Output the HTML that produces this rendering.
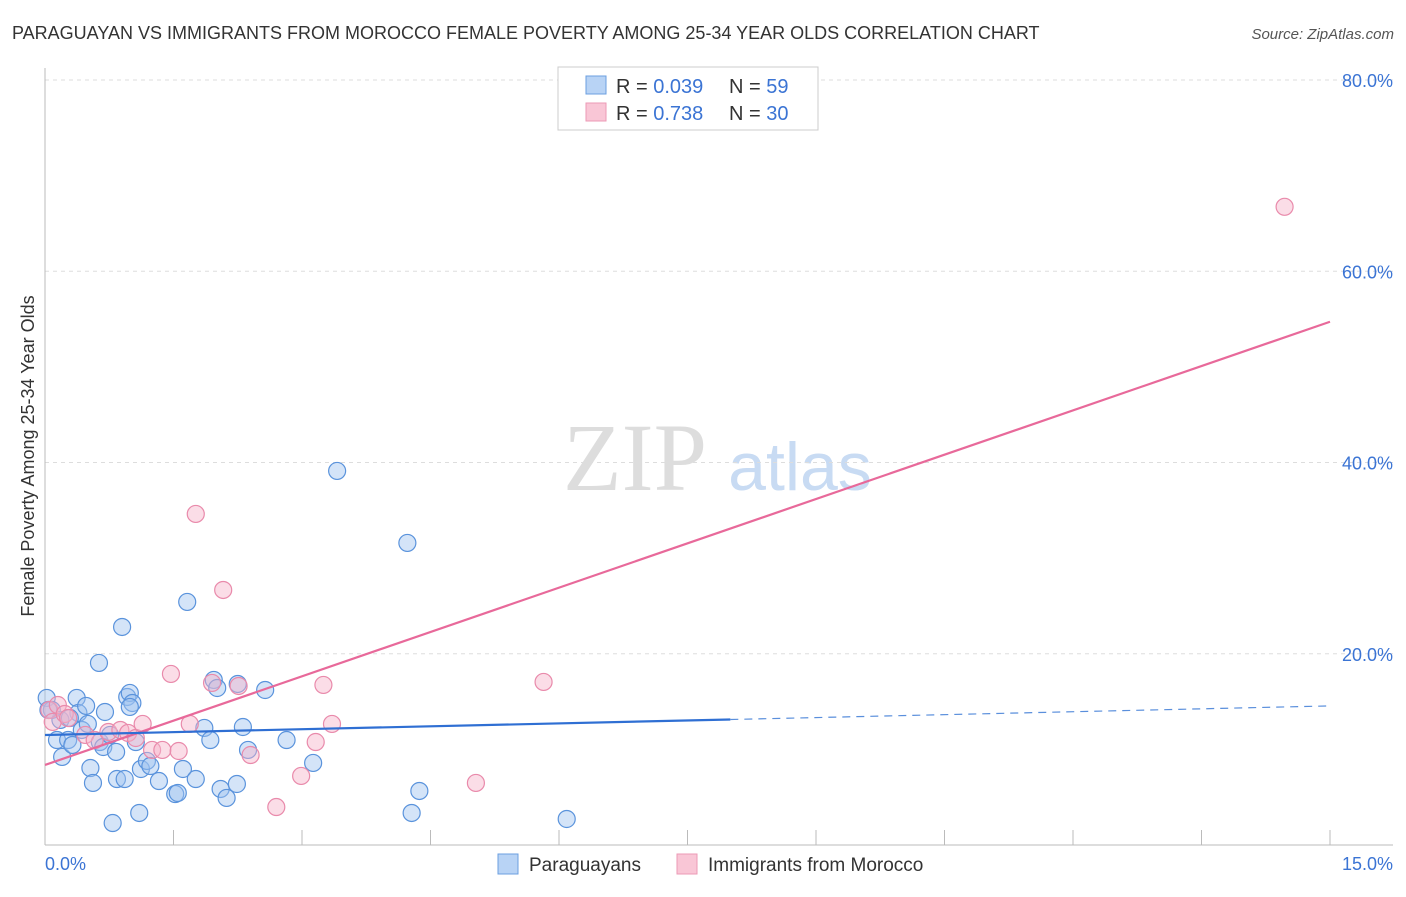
<!DOCTYPE html>
<html><head><meta charset="utf-8"><style>
body{margin:0;background:#fff;font-family:"Liberation Sans",sans-serif}
</style></head><body>
<svg id="chart" width="1406" height="892" xmlns="http://www.w3.org/2000/svg" font-family="Liberation Sans, sans-serif">
<text x="12" y="39" font-size="18" fill="#333">PARAGUAYAN VS IMMIGRANTS FROM MOROCCO FEMALE POVERTY AMONG 25-34 YEAR OLDS CORRELATION CHART</text>
<text x="1394" y="39" font-size="15" fill="#555" text-anchor="end" font-style="italic">Source: ZipAtlas.com</text>
<g>
<text x="635" y="490" font-size="96" fill="#ddd" font-family="Liberation Serif, serif" text-anchor="middle">ZIP</text>
<text x="800" y="490" font-size="68" fill="#c8dbf3" text-anchor="middle">atlas</text>
</g>
<g id="grid"></g>
<g id="axes"></g>
<g id="marks"></g>
<text transform="translate(34,456) rotate(-90)" font-size="18" fill="#333" text-anchor="middle">Female Poverty Among 25-34 Year Olds</text>
<g>
<rect x="558" y="67" width="260" height="63" fill="#fff" stroke="#ccc"/>
<rect x="586" y="76" width="20" height="18" fill="#b8d3f5" stroke="#6b9fe0"/>
<rect x="586" y="103" width="20" height="18" fill="#f9c6d6" stroke="#ec9ab6"/>
<text x="616" y="93" font-size="20" fill="#333">R = <tspan fill="#3b74d4">0.039</tspan></text>
<text x="729" y="93" font-size="20" fill="#333">N = <tspan fill="#3b74d4">59</tspan></text>
<text x="616" y="120" font-size="20" fill="#333">R = <tspan fill="#3b74d4">0.738</tspan></text>
<text x="729" y="120" font-size="20" fill="#333">N = <tspan fill="#3b74d4">30</tspan></text>
</g>
<g>
<rect x="498" y="854" width="20" height="20" fill="#b8d3f5" stroke="#6b9fe0"/>
<text x="529" y="871" font-size="19" fill="#333">Paraguayans</text>
<rect x="677" y="854" width="20" height="20" fill="#f9c6d6" stroke="#ec9ab6"/>
<text x="708" y="871" font-size="19" fill="#333">Immigrants from Morocco</text>
</g>
</svg>
<script>
const blueX=[0.02,0.08,0.14,0.18,0.20,0.27,0.32,0.37,0.39,0.43,0.48,0.50,0.53,0.56,0.63,0.64,0.68,0.70,0.76,0.79,0.83,0.84,0.90,0.93,0.96,0.99,1.02,1.06,1.10,1.12,1.19,1.23,1.33,1.52,1.55,1.61,1.66,1.76,1.86,1.93,1.97,2.01,2.05,2.12,2.24,2.25,2.31,2.37,2.57,2.82,3.13,3.41,4.23,4.28,4.37,6.09,0.04,0.29,0.99];
const blueY=[15.38,14.12,10.98,13.08,9.21,10.98,10.46,15.38,13.81,12.03,14.54,12.66,8.05,6.49,19.04,10.77,10.25,13.91,11.51,2.30,9.73,6.90,22.80,6.90,15.48,15.90,14.85,10.77,3.35,7.95,8.79,8.26,6.69,5.33,5.44,7.95,25.42,6.90,12.24,10.98,17.26,16.42,5.86,4.92,6.38,16.84,12.34,9.94,16.21,10.98,8.58,39.12,31.59,3.35,5.65,2.72,14.12,13.28,14.44];
const pinkX=[0.05,0.09,0.15,0.23,0.27,0.47,0.58,0.74,0.88,0.97,1.06,1.14,1.25,1.37,1.47,1.56,1.69,1.76,1.95,2.08,2.26,2.40,2.70,2.99,3.16,3.25,3.35,5.03,5.82,14.47];
const pinkY=[14.12,12.87,14.64,13.70,13.28,11.51,10.98,11.82,12.03,11.72,11.19,12.66,9.94,9.94,17.89,9.83,12.66,34.62,16.95,26.67,16.63,9.41,3.97,7.22,10.77,16.74,12.66,6.49,17.05,66.74];
const blueTrend=[11.5,0.203];   // intercept, slope
const pinkTrend=[8.37,3.09];
const yTicks=[20,40,60,80];
const yTickLabels=["20.0%","40.0%","60.0%","80.0%"];
const xTicks=[0,1.5,3,4.5,6,7.5,9,10.5,12,13.5,15];
const NS="http://www.w3.org/2000/svg";
const X0=45,X1=1330,Y0=845,Y80=80;
const sx=v=>X0+(X1-X0)*v/15;
const sy=v=>Y0-(Y0-Y80)*v/80;
function mk(tag,attrs,parent){const e=document.createElementNS(NS,tag);for(const k in attrs)e.setAttribute(k,attrs[k]);document.getElementById(parent).appendChild(e);return e;}
yTicks.forEach((t,i)=>{
 const l=mk('line',{x1:X0,x2:1393,y1:sy(t),y2:sy(t),stroke:'#ddd','stroke-dasharray':'4,4'},'grid');
 
 
 const tx=mk('text',{x:1393,y:sy(t)+7,'font-size':18,fill:'#3b74d4','text-anchor':'end'},'grid');
 tx.textContent=yTickLabels[i];
 
 
});
let a=mk('line',{x1:X0,x2:X0,y1:68,y2:Y0,stroke:'#bbb'},'axes');


a=mk('line',{x1:X0,x2:1393,y1:Y0,y2:Y0,stroke:'#bbb'},'axes');


xTicks.forEach(t=>{const l=mk('line',{x1:sx(t),x2:sx(t),y1:Y0-15,y2:Y0,stroke:'#bbb'},'axes');
 
 });
let t=mk('text',{x:45,y:870,'font-size':18,fill:'#3b74d4'},'axes');t.textContent='0.0%';


t=mk('text',{x:1393,y:870,'font-size':18,fill:'#3b74d4','text-anchor':'end'},'axes');t.textContent='15.0%';


blueX.forEach((v,i)=>{const c=mk('circle',{cx:sx(v),cy:sy(blueY[i]),r:8.5,fill:'rgba(160,196,240,0.45)',stroke:'#5a93dc','stroke-width':1.2},'marks');
 
 });
pinkX.forEach((v,i)=>{const c=mk('circle',{cx:sx(v),cy:sy(pinkY[i]),r:8.5,fill:'rgba(246,180,202,0.45)',stroke:'#e98aab','stroke-width':1.2},'marks');
 
 });
let l=mk('line',{x1:sx(0),y1:sy(pinkTrend[0]),x2:sx(15),y2:sy(pinkTrend[0]+15*pinkTrend[1]),stroke:'#e8699a','stroke-width':2.2},'marks');


l=mk('line',{x1:sx(0),y1:sy(blueTrend[0]),x2:sx(8),y2:sy(blueTrend[0]+8*blueTrend[1]),stroke:'#2f6fd3','stroke-width':2.2},'marks');


l=mk('line',{x1:sx(8),y1:sy(blueTrend[0]+8*blueTrend[1]),x2:sx(15),y2:sy(blueTrend[0]+15*blueTrend[1]),stroke:'#5a8fdc','stroke-width':1.2,'stroke-dasharray':'8,6'},'marks');


</script>
</body></html>
